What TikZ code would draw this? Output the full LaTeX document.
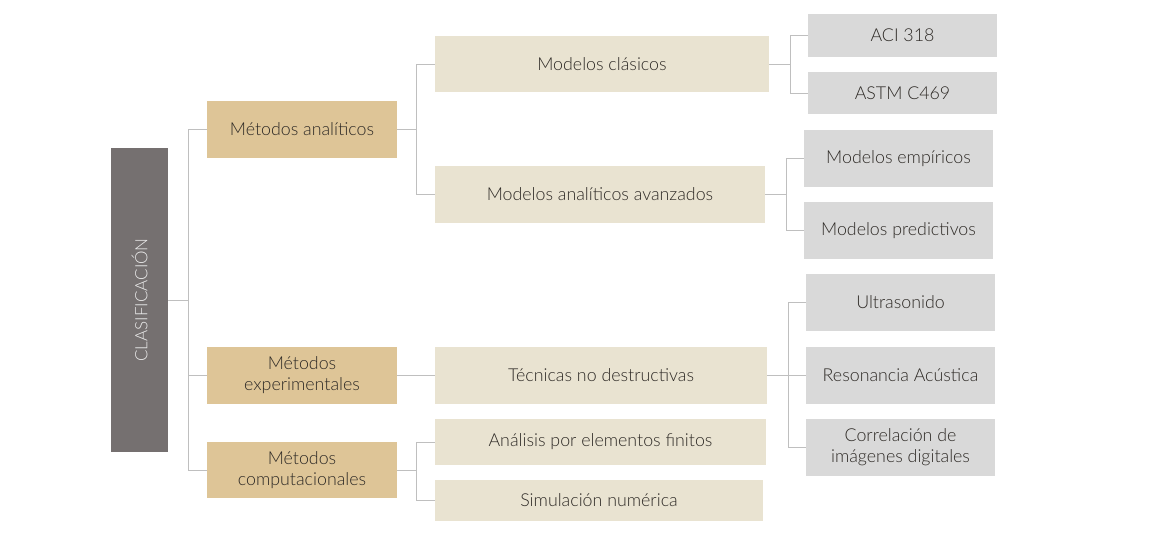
\documentclass[tikz,border=0pt]{standalone}
\usepackage{fontspec}
\setmainfont{Lato Light}
\definecolor{clasbg}{HTML}{757070}
\definecolor{tanbg}{HTML}{DEC597}
\definecolor{beigebg}{HTML}{E9E3D1}
\definecolor{graybg}{HTML}{D9D9D9}
\definecolor{linec}{HTML}{BFBFBF}
\definecolor{txt}{HTML}{2E2A26}
\tikzset{
  box/.style={inner sep=0pt, align=center, text=txt, font=\fontsize{17.8}{21}\selectfont},
  tanbox/.style={box, fill=tanbg},
  beigebox/.style={box, fill=beigebg},
  graybox/.style={box, fill=graybg},
  conn/.style={draw=linec, line width=0.9pt}
}
\newcommand{\boxat}[7]{% name, style, x1,y1,x2,y2, text
  \node[#2, minimum width={#5-#3}, minimum height={#6-#4}] (#1) at ({(#3+#5)/2},{(#4+#6)/2}) {#7};}
\begin{document}
\begin{tikzpicture}[x=1pt,y=-1pt]
\useasboundingbox (0,0) rectangle (1158,536);
\fill[white] (0,0) rectangle (1158,536);
% root
\node[fill=clasbg, inner sep=0pt, minimum width=57, minimum height=304] (clas) at (139.5,300) {};
\node[rotate=90, text=white!92!black, font=\fontsize{17}{19}\selectfont] (clastxt) at (clas.center) {CLASIFICACIÓN};
% level 1
\boxat{ana}{tanbox}{207}{101}{397}{158}{Métodos analíticos}
\boxat{exp}{tanbox}{207}{347}{397}{404}{Métodos\\experimentales}
\boxat{comp}{tanbox}{207}{442}{397}{498}{Métodos\\computacionales}
% level 2
\boxat{clasicos}{beigebox}{435}{36}{769}{92}{Modelos clásicos}
\boxat{avanz}{beigebox}{435}{166}{765}{223}{Modelos analíticos avanzados}
\boxat{tecn}{beigebox}{435}{347}{767}{404}{Técnicas no destructivas}
\boxat{fem}{beigebox}{435}{419}{766}{465}{Análisis por elementos finitos}
\boxat{sim}{beigebox}{435}{480}{763}{521}{Simulación numérica}
% level 3
\boxat{aci}{graybox}{808}{14}{997}{57}{ACI 318}
\boxat{astm}{graybox}{808}{72}{997}{114}{ASTM C469}
\boxat{emp}{graybox}{804}{130}{993}{187}{Modelos empíricos}
\boxat{pred}{graybox}{804}{202}{993}{259}{Modelos predictivos}
\boxat{ultra}{graybox}{806}{274}{995}{331}{Ultrasonido}
\boxat{reso}{graybox}{806}{347}{995}{404}{Resonancia Acústica}
\boxat{corr}{graybox}{806}{419}{995}{476}{Correlación de\\imágenes digitales}
% connectors
\draw[conn] (clas.east) -- ++(20,0) coordinate (j0);
\draw[conn] (j0) |- (ana.west);
\draw[conn] (j0) |- (exp.west);
\draw[conn] (j0) |- (comp.west);
\draw[conn] (ana.east) -- ++(19,0) coordinate (j1);
\draw[conn] (j1) |- (clasicos.west);
\draw[conn] (j1) |- (avanz.west);
\draw[conn] (exp.east) -- (tecn.west);
\draw[conn] (comp.east) -- ++(19,0) coordinate (j3);
\draw[conn] (j3) |- (fem.west);
\draw[conn] (j3) |- (sim.west);
\draw[conn] (clasicos.east) -- ++(21,0) coordinate (j4);
\draw[conn] (j4) |- (aci.west);
\draw[conn] (j4) |- (astm.west);
\draw[conn] (avanz.east) -- ++(21,0) coordinate (j5);
\draw[conn] (j5) |- (emp.west);
\draw[conn] (j5) |- (pred.west);
\draw[conn] (tecn.east) -- ++(21,0) coordinate (j6);
\draw[conn] (j6) |- (ultra.west);
\draw[conn] (j6) |- (reso.west);
\draw[conn] (j6) |- (corr.west);
\end{tikzpicture}
\end{document}
